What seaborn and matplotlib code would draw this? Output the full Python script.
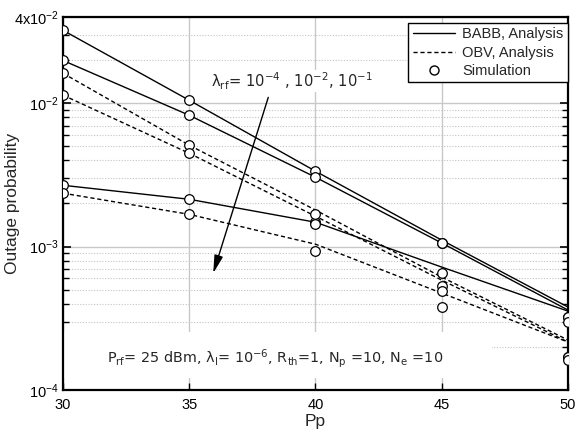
import matplotlib
matplotlib.use("Agg")
import matplotlib.pyplot as plt
import numpy as np
import pandas as pd
import seaborn as sns
from matplotlib.lines import Line2D
from matplotlib.patches import Rectangle
from matplotlib.ticker import FixedLocator, FixedFormatter, LogLocator, NullFormatter

# ---------------- data ----------------
pp = [30, 35, 40, 45, 50]
lam_values = ["1e-4", "1e-2", "1e-1"]

babb_ana_l4 = [0.0323, 0.0105, 0.00336, 0.00111, 0.000379]
babb_ana_l2 = [0.0199, 0.00825, 0.00305, 0.00106, 0.000361]
babb_ana_l1 = [0.00268, 0.00214, 0.00148, 0.00072, 0.000355]
obv_ana_l4 = [0.0162, 0.0051, 0.0018, 0.000613, 0.000223]
obv_ana_l2 = [0.0114, 0.00448, 0.00163, 0.000584, 0.000216]
obv_ana_l1 = [0.00236, 0.00168, 0.00104, 0.000474, 0.000216]

babb_sim_l4 = [0.0323, 0.0105, 0.00336, 0.00106, 0.000323]
babb_sim_l2 = [0.0199, 0.00825, 0.00305, 0.00106, 0.000323]
babb_sim_l1 = [0.00268, 0.00214, 0.00148, 0.000654, 0.000298]
obv_sim_l4 = [0.0162, 0.0051, 0.00168, 0.00053, 0.00017]
obv_sim_l2 = [0.0114, 0.00448, 0.00143, 0.00049, 0.00017]
obv_sim_l1 = [0.00236, 0.00168, 0.00093, 0.000379, 0.000162]

ytick_vals = [1e-4, 1e-3, 1e-2, 4e-2]
ytick_labels = [r"$\mathdefault{10^{-4}}$", r"$\mathdefault{10^{-3}}$",
                r"$\mathdefault{10^{-2}}$", r"$\mathdefault{4x10^{-2}}$"]
legend_labels = ["BABB, Analysis", "OBV, Analysis", "Simulation"]

# ---------------- long-form tables ----------------
ana_rows = []
for scheme, series in (("BABB", [babb_ana_l4, babb_ana_l2, babb_ana_l1]),
                       ("OBV", [obv_ana_l4, obv_ana_l2, obv_ana_l1])):
    for lam, vals in zip(lam_values, series):
        for x, v in zip(pp, vals):
            ana_rows.append({"Pp": x, "P": v, "scheme": scheme, "lam": scheme + lam})
df_ana = pd.DataFrame(ana_rows)

sim_rows = []
for scheme, series in (("BABB", [babb_sim_l4, babb_sim_l2, babb_sim_l1]),
                       ("OBV", [obv_sim_l4, obv_sim_l2, obv_sim_l1])):
    for lam, vals in zip(lam_values, series):
        for x, v in zip(pp, vals):
            sim_rows.append({"Pp": x, "P": v, "scheme": scheme, "lam": scheme + lam})
df_sim = pd.DataFrame(sim_rows)

# ---------------- style ----------------
sns.set_theme(style="white")
plt.rcParams["font.family"] = ["Liberation Sans", "DejaVu Sans"]
plt.rcParams["axes.unicode_minus"] = False

fig = plt.figure(figsize=(5.85, 4.37), dpi=100)
ax = fig.add_axes([0.1077, 0.1076, 0.8632, 0.8535])
ax.set_yscale("log")

sns.lineplot(data=df_ana, x="Pp", y="P", style="scheme", units="lam",
             estimator=None, color="black", linewidth=1.0,
             dashes={"BABB": "", "OBV": (3, 2)}, legend=False, ax=ax, zorder=3)
sns.scatterplot(data=df_sim, x="Pp", y="P", marker="o", s=48,
                facecolor="white", edgecolor="black", linewidth=0.9,
                legend=False, ax=ax, zorder=4)

ax.set_xlim(30, 50)
ax.set_ylim(1e-4, 4e-2)

ax.set_xticks(pp)
ax.set_xticklabels([str(v) for v in pp])
ax.yaxis.set_major_locator(FixedLocator(ytick_vals))
ax.yaxis.set_major_formatter(FixedFormatter(ytick_labels))
ax.yaxis.set_minor_locator(LogLocator(base=10, subs=np.arange(2, 10)))
ax.yaxis.set_minor_formatter(NullFormatter())

ax.set_axisbelow(True)
ax.grid(True, which="major", axis="both", color="#c8c8c8", linewidth=1.0, linestyle="-")
ax.grid(True, which="minor", axis="y", color="#c4c4c4", linewidth=0.8, linestyle=(0, (1, 1.5)))

ax.tick_params(axis="both", which="both", direction="in", colors="black",
               labelsize=10.5)
ax.tick_params(axis="y", which="major", length=6, width=1.2, left=True, right=True, pad=3)
ax.tick_params(axis="y", which="minor", length=4, width=1.0, left=True, right=True)
ax.tick_params(axis="x", which="major", length=5, width=1.0, bottom=True, top=False, pad=6)

for sp in ax.spines.values():
    sp.set_color("black")
    sp.set_linewidth(1.6)

ax.set_xlabel("Pp", fontsize=12.5, labelpad=1)
ax.set_ylabel("Outage probability", fontsize=12.5)
ax.yaxis.set_label_coords(-0.085, 0.5)

# white box behind the parameter text
ax.add_patch(Rectangle((0.0, 0.032), 0.8495, 0.123, transform=ax.transAxes,
                       facecolor="white", edgecolor="none", zorder=1.5))

ax.text(38.41, 0.000167,
        r"P$_{\mathrm{rf}}$= 25 dBm, λ$_{\mathrm{I}}$= 10$^{-6}$, R$_{\mathrm{th}}$=1, N$_{\mathrm{p}}$ =10, N$_{\mathrm{e}}$ =10",
        ha="center", va="center", fontsize=10.4, family="DejaVu Sans", zorder=5)

ax.text(39.05, 0.0143,
        r"λ$_{\mathrm{rf}}$= 10$^{-4}$ , 10$^{-2}$, 10$^{-1}$",
        ha="center", va="center", fontsize=10.6, family="DejaVu Sans", zorder=5,
        bbox=dict(facecolor="white", edgecolor="none", pad=0.5))

ax.annotate("", xy=(35.95, 0.000653), xytext=(38.13, 0.0110),
            arrowprops=dict(arrowstyle="-|>,head_length=0.9,head_width=0.22",
                            color="black", lw=1.0, shrinkA=0, shrinkB=0),
            zorder=5)

handles = [Line2D([], [], color="black", lw=1.0),
           Line2D([], [], color="black", lw=1.0, linestyle=(0, (3, 2))),
           Line2D([], [], color="black", marker="o", markerfacecolor="white",
                  markeredgecolor="black", linestyle="none", markersize=6.5)]
leg = ax.legend(handles, legend_labels, loc="upper right",
                bbox_to_anchor=(1.0, 0.984), borderaxespad=0, fontsize=10.5,
                frameon=True, fancybox=False, framealpha=1, edgecolor="black",
                handlelength=2.9, handletextpad=0.5, labelspacing=0.3,
                borderpad=0.3)
leg.get_frame().set_linewidth(1.0)
leg.set_zorder(6)

fig.savefig("out.png", dpi=100)
